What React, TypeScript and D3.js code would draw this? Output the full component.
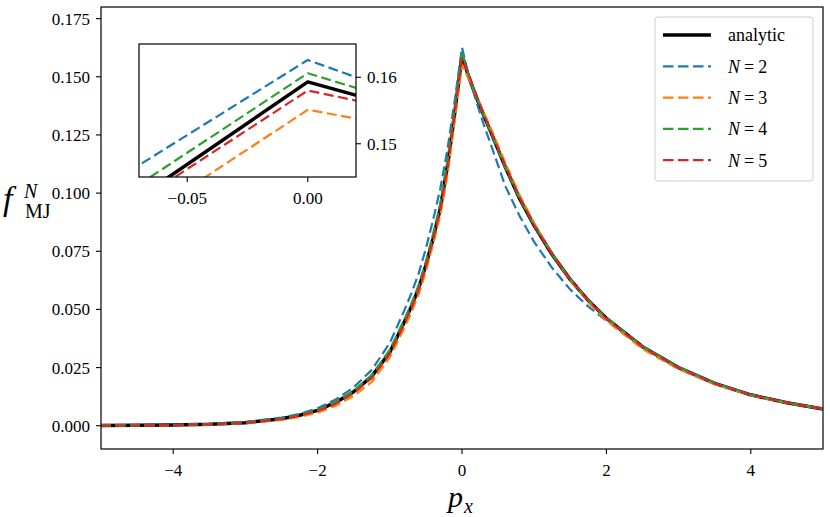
import * as d3 from 'd3'

// momentum grid (shared by every series)
const PX = [
  -5, -4.5, -4, -3.5, -3, -2.5, -2.25, -2, -1.75, -1.5, -1.25, -1, -0.8, -0.7, -0.6, -0.5, -0.4, -0.3, -0.2, -0.1, 0,
  0.1, 0.2, 0.3, 0.4, 0.6, 0.8, 1, 1.25, 1.5, 1.75, 2, 2.5, 3, 3.5, 4, 4.5, 5,
]

const ANALYTIC = [
  0.0001, 0.0002, 0.0003, 0.0006, 0.0013, 0.003, 0.0045, 0.0066, 0.01, 0.0146, 0.0212, 0.0316, 0.0445, 0.0513, 0.0592, 0.069, 0.0805, 0.0935, 0.1118, 0.1345, 0.1593,
  0.1493, 0.1412, 0.1335, 0.1262, 0.1112, 0.0975, 0.086, 0.0735, 0.0628, 0.0538, 0.0462, 0.034, 0.025, 0.0182, 0.0133, 0.0099, 0.0072,
]
const N2 = [
  0.0002, 0.0003, 0.0004, 0.0008, 0.0016, 0.0035, 0.0051, 0.0075, 0.0113, 0.0165, 0.024, 0.0356, 0.0495, 0.057, 0.0655, 0.0762, 0.0885, 0.102, 0.119, 0.14, 0.1626,
  0.1496, 0.1392, 0.1296, 0.1208, 0.103, 0.09, 0.079, 0.0678, 0.0585, 0.0512, 0.0452, 0.034, 0.0252, 0.0184, 0.0134, 0.0099, 0.0073,
]
const N3 = [
  0.0001, 0.0001, 0.0002, 0.0005, 0.0011, 0.0025, 0.0038, 0.0056, 0.0086, 0.0128, 0.0188, 0.0295, 0.042, 0.0488, 0.0565, 0.0664, 0.078, 0.0905, 0.108, 0.1313, 0.1551,
  0.1486, 0.1418, 0.1348, 0.1278, 0.113, 0.099, 0.087, 0.0738, 0.0625, 0.053, 0.0452, 0.033, 0.0243, 0.0178, 0.0131, 0.0098, 0.0072,
]
const N4 = [
  0.0001, 0.0002, 0.0003, 0.0006, 0.0014, 0.0031, 0.0046, 0.0068, 0.0103, 0.015, 0.0218, 0.0326, 0.0456, 0.0526, 0.0605, 0.0706, 0.0825, 0.0955, 0.114, 0.1367, 0.1606,
  0.1496, 0.1412, 0.1334, 0.126, 0.111, 0.0975, 0.086, 0.0736, 0.063, 0.054, 0.0464, 0.0342, 0.0251, 0.0183, 0.0134, 0.0099, 0.0072,
]
const N5 = [
  0.0001, 0.0001, 0.0003, 0.0006, 0.0012, 0.0028, 0.0043, 0.0063, 0.0095, 0.014, 0.0205, 0.031, 0.0438, 0.0506, 0.0585, 0.0685, 0.08, 0.093, 0.111, 0.1344, 0.158,
  0.1505, 0.142, 0.134, 0.1265, 0.1118, 0.098, 0.0862, 0.0736, 0.0627, 0.0536, 0.046, 0.0338, 0.0248, 0.0181, 0.0133, 0.0099, 0.0072,
]

const X_TICKS = [-4, -2, 0, 2, 4]
const Y_TICKS = [0, 0.025, 0.05, 0.075, 0.1, 0.125, 0.15, 0.175]
const INSET_X_TICKS = [-0.05, 0]
const INSET_Y_TICKS = [0.15, 0.16]

const SERIES = [
  { key: 'analytic', values: ANALYTIC, color: '#000000', dashed: false },
  { key: '2', values: N2, color: '#1f77b4', dashed: true },
  { key: '3', values: N3, color: '#ff7f0e', dashed: true },
  { key: '4', values: N4, color: '#2ca02c', dashed: true },
  { key: '5', values: N5, color: '#d62728', dashed: true },
]

const FONT = '"Liberation Serif", "DejaVu Serif", serif'
const minus = (s: string) => s.replace('-', '\u2212')

export default function App() {
  const W = 830
  const H = 517
  const m = { left: 101, right: 823, top: 7, bottom: 449 }

  const x = d3.scaleLinear().domain([-5, 5]).range([m.left, m.right])
  const y = d3.scaleLinear().domain([-0.01, 0.18]).range([m.bottom, m.top])

  // inset axes
  const ib = { left: 139, right: 356, top: 44, bottom: 177 }
  const ix = d3.scaleLinear().domain([-0.07, 0.02]).range([ib.left, ib.right])
  const iy = d3.scaleLinear().domain([0.145, 0.165]).range([ib.bottom, ib.top])

  const lineFor = (sx: d3.ScaleLinear<number, number>, sy: d3.ScaleLinear<number, number>) =>
    d3
      .line<number>()
      .x((_, i) => sx(PX[i]))
      .y((d) => sy(d))

  const mainLine = lineFor(x, y)
  const insetLine = lineFor(ix, iy)

  const drawSeries = (gen: d3.Line<number>, width: number) =>
    SERIES.map((s) => (
      <path
        key={s.key}
        d={gen(s.values) || ''}
        fill="none"
        stroke={s.color}
        strokeWidth={s.dashed ? width : width + 1.3}
        strokeDasharray={s.dashed ? '10 4.5' : undefined}
        strokeLinejoin="round"
      />
    ))

  const legendX = 655
  const legendY = 17
  const rowH = 31.3

  return (
    <svg
      width={W}
      height={H}
      style={{ position: 'absolute', left: 0, top: 0, background: '#fff' }}
      fontFamily={FONT}
    >
      <defs>
        <clipPath id="main-clip">
          <rect x={m.left} y={m.top} width={m.right - m.left} height={m.bottom - m.top} />
        </clipPath>
        <clipPath id="inset-clip">
          <rect x={ib.left} y={ib.top} width={ib.right - ib.left} height={ib.bottom - ib.top} />
        </clipPath>
      </defs>

      <g clipPath="url(#main-clip)">{drawSeries(mainLine, 2.2)}</g>

      {/* main frame */}
      <rect
        x={m.left}
        y={m.top}
        width={m.right - m.left}
        height={m.bottom - m.top}
        fill="none"
        stroke="#000"
        strokeWidth={1.2}
      />

      {X_TICKS.map((t) => (
        <g key={t}>
          <line x1={x(t)} x2={x(t)} y1={m.bottom} y2={m.bottom + 5} stroke="#000" strokeWidth={1.1} />
          <text x={x(t)} y={m.bottom + 27} fontSize={17} textAnchor="middle">
            {minus(d3.format('d')(t))}
          </text>
        </g>
      ))}
      {Y_TICKS.map((t) => (
        <g key={t}>
          <line x1={m.left - 5} x2={m.left} y1={y(t)} y2={y(t)} stroke="#000" strokeWidth={1.1} />
          <text x={m.left - 11} y={y(t)} dy="0.35em" fontSize={17} textAnchor="end">
            {d3.format('.3f')(t)}
          </text>
        </g>
      ))}

      {/* axis labels */}
      <text x={448} y={507} fontSize={30} fontStyle="italic">
        p
      </text>
      <text x={464} y={513} fontSize={20} fontStyle="italic">
        x
      </text>
      <text x={3} y={210} fontSize={34} fontStyle="italic">
        f
      </text>
      <text x={24} y={198} fontSize={20} fontStyle="italic">
        N
      </text>
      <text x={25} y={218} fontSize={20}>
        MJ
      </text>

      {/* inset */}
      <rect x={ib.left} y={ib.top} width={ib.right - ib.left} height={ib.bottom - ib.top} fill="#fff" />
      <g clipPath="url(#inset-clip)">{drawSeries(insetLine, 2.2)}</g>
      <rect
        x={ib.left}
        y={ib.top}
        width={ib.right - ib.left}
        height={ib.bottom - ib.top}
        fill="none"
        stroke="#000"
        strokeWidth={1.2}
      />
      {INSET_X_TICKS.map((t) => (
        <g key={t}>
          <line x1={ix(t)} x2={ix(t)} y1={ib.bottom} y2={ib.bottom + 5} stroke="#000" strokeWidth={1.1} />
          <text x={ix(t)} y={ib.bottom + 27} fontSize={17} textAnchor="middle">
            {minus(d3.format('.2f')(t))}
          </text>
        </g>
      ))}
      {INSET_Y_TICKS.map((t) => (
        <g key={t}>
          <line x1={ib.right} x2={ib.right + 5} y1={iy(t)} y2={iy(t)} stroke="#000" strokeWidth={1.1} />
          <text x={ib.right + 11} y={iy(t)} dy="0.35em" fontSize={17}>
            {d3.format('.2f')(t)}
          </text>
        </g>
      ))}

      {/* legend */}
      <rect
        x={legendX}
        y={legendY}
        width={158}
        height={164}
        rx={3}
        fill="#fff"
        fillOpacity={0.8}
        stroke="#cccccc"
        strokeWidth={1}
      />
      {SERIES.map((s, i) => {
        const cy = legendY + 18 + i * rowH
        return (
          <g key={s.key}>
            <line
              x1={legendX + 8}
              x2={legendX + 56}
              y1={cy}
              y2={cy}
              stroke={s.color}
              strokeWidth={s.dashed ? 2.2 : 3.5}
              strokeDasharray={s.dashed ? '10.5 4.5' : undefined}
            />
            {s.dashed ? (
              <text x={legendX + 73} y={cy} dy="0.35em" fontSize={18}>
                <tspan fontStyle="italic">N</tspan>
                <tspan dx={4}>=</tspan>
                <tspan dx={4}>{s.key}</tspan>
              </text>
            ) : (
              <text x={legendX + 73} y={cy} dy="0.35em" fontSize={18}>
                analytic
              </text>
            )}
          </g>
        )
      })}
    </svg>
  )
}
